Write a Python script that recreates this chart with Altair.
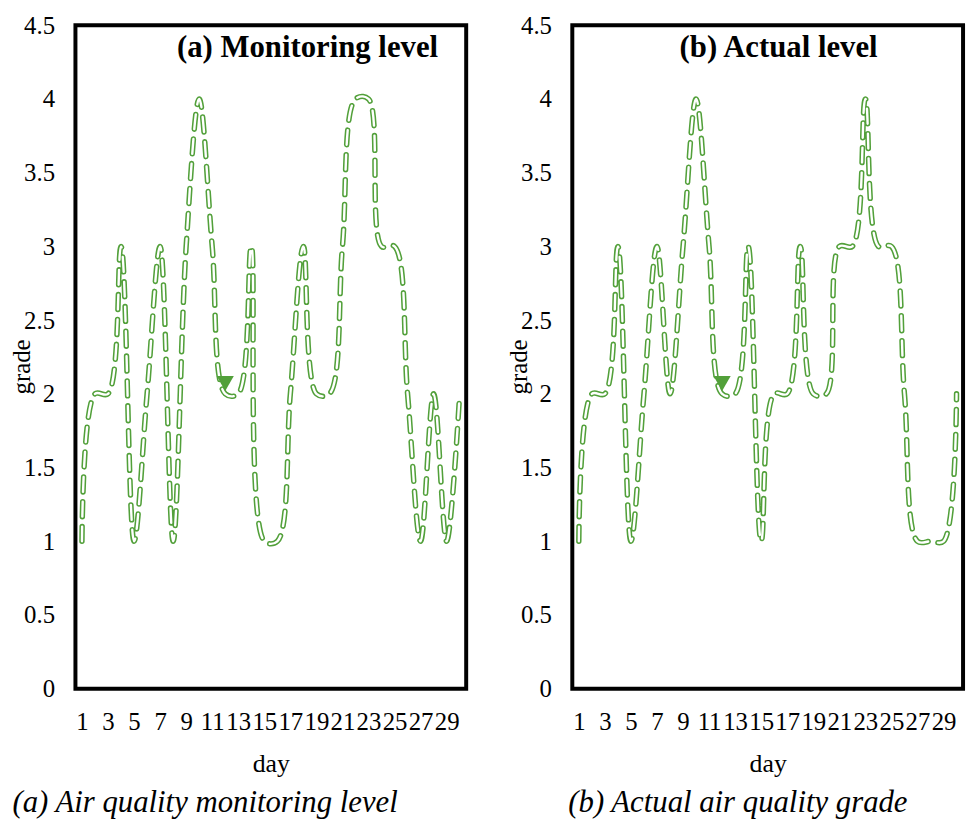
import altair as alt
import pandas as pd

# ---- data ----
days = list(range(1, 31))
monitoring = [1, 2, 2, 3, 1, 2, 3, 1, 3, 4, 3, 2, 2, 3, 1, 1, 2, 3, 2, 2, 3, 4, 4, 3, 3, 2, 1, 2, 1, 2]
actual = [1, 2, 2, 3, 1, 2, 3, 2, 3, 4, 3, 2, 2, 3, 1, 2, 2, 3, 2, 2, 3, 3, 4, 3, 3, 2, 1, 1, 1, 2]
x_label_days = [1, 3, 5, 7, 9, 11, 13, 15, 17, 19, 21, 23, 25, 27, 29]
y_ticks = [0, 0.5, 1, 1.5, 2, 2.5, 3, 3.5, 4, 4.5]
arrow_day = [12]
arrow_grade = [2.07]
headings = ["(a) Monitoring level", "(b) Actual level"]
captions = ["(a) Air quality monitoring level", "(b) Actual air quality grade"]

FONT = "Liberation Serif"
GREEN = "#52a03a"
W, H = 394, 669


def panel(values, heading, heading_dx, caption, caption_anchor, caption_dx):
    df = pd.DataFrame({"day": days, "grade": values})
    arrow_df = pd.DataFrame({"day": arrow_day, "grade": arrow_grade})

    x = alt.X(
        "day:O",
        scale=alt.Scale(domain=days),
        axis=alt.Axis(
            values=x_label_days, labelAngle=0, labelOverlap=False, ticks=False,
            tickSize=0, domain=False, title="day", labelFontSize=25,
            titleFontSize=26, labelPadding=21, titlePadding=16,
            titleFontWeight="normal", labelFont=FONT, titleFont=FONT,
            labelColor="black", titleColor="black",
        ),
    )
    y = alt.Y(
        "grade:Q",
        scale=alt.Scale(domain=[0, 4.5], nice=False, zero=True),
        axis=alt.Axis(
            values=y_ticks, format="~g", ticks=False, tickSize=0, domain=False,
            grid=False, title="grade", labelFontSize=25, titleFontSize=25,
            labelPadding=21, titleFontWeight="normal", labelFont=FONT,
            titleFont=FONT, labelColor="black", titleColor="black",
            titleX=-41, titleY=344,
        ),
    )
    base = alt.Chart(df).encode(x=x, y=y)
    outer = base.mark_line(
        interpolate="catmull-rom", color=GREEN, strokeWidth=5.5,
        strokeDash=[15, 10], strokeCap="round",
    )
    inner = base.mark_line(
        interpolate="catmull-rom", color="white", strokeWidth=2.4,
        strokeDash=[15, 10], strokeCap="round",
    )
    arrow = alt.Chart(arrow_df).mark_point(
        shape="triangle-down", filled=True, color=GREEN, size=300, opacity=1
    ).encode(x="day:O", y="grade:Q")
    head = alt.Chart(pd.DataFrame({"t": [heading]})).mark_text(
        font=FONT, fontSize=31, fontWeight="bold", color="black",
        baseline="alphabetic", align="center",
    ).encode(text="t:N", x=alt.value(W / 2 + heading_dx), y=alt.value(32))

    return alt.layer(outer, inner, arrow, head).properties(
        width=W, height=H,
        title=alt.TitleParams(
            caption, orient="bottom", anchor=caption_anchor, frame="group",
            dx=caption_dx, offset=12, font=FONT, fontSize=31,
            fontStyle="italic", fontWeight="normal", color="black",
        ),
    )


left = panel(monitoring, headings[0], 37, captions[0], "end", -69)
right = panel(actual, headings[1], 11, captions[1], "start", -4)

chart = alt.hconcat(left, right, spacing=32).properties(
    padding=0, background="white"
).configure_view(stroke="black", strokeWidth=4)

chart.save("out.html", embed_options={"renderer": "svg", "actions": False})
